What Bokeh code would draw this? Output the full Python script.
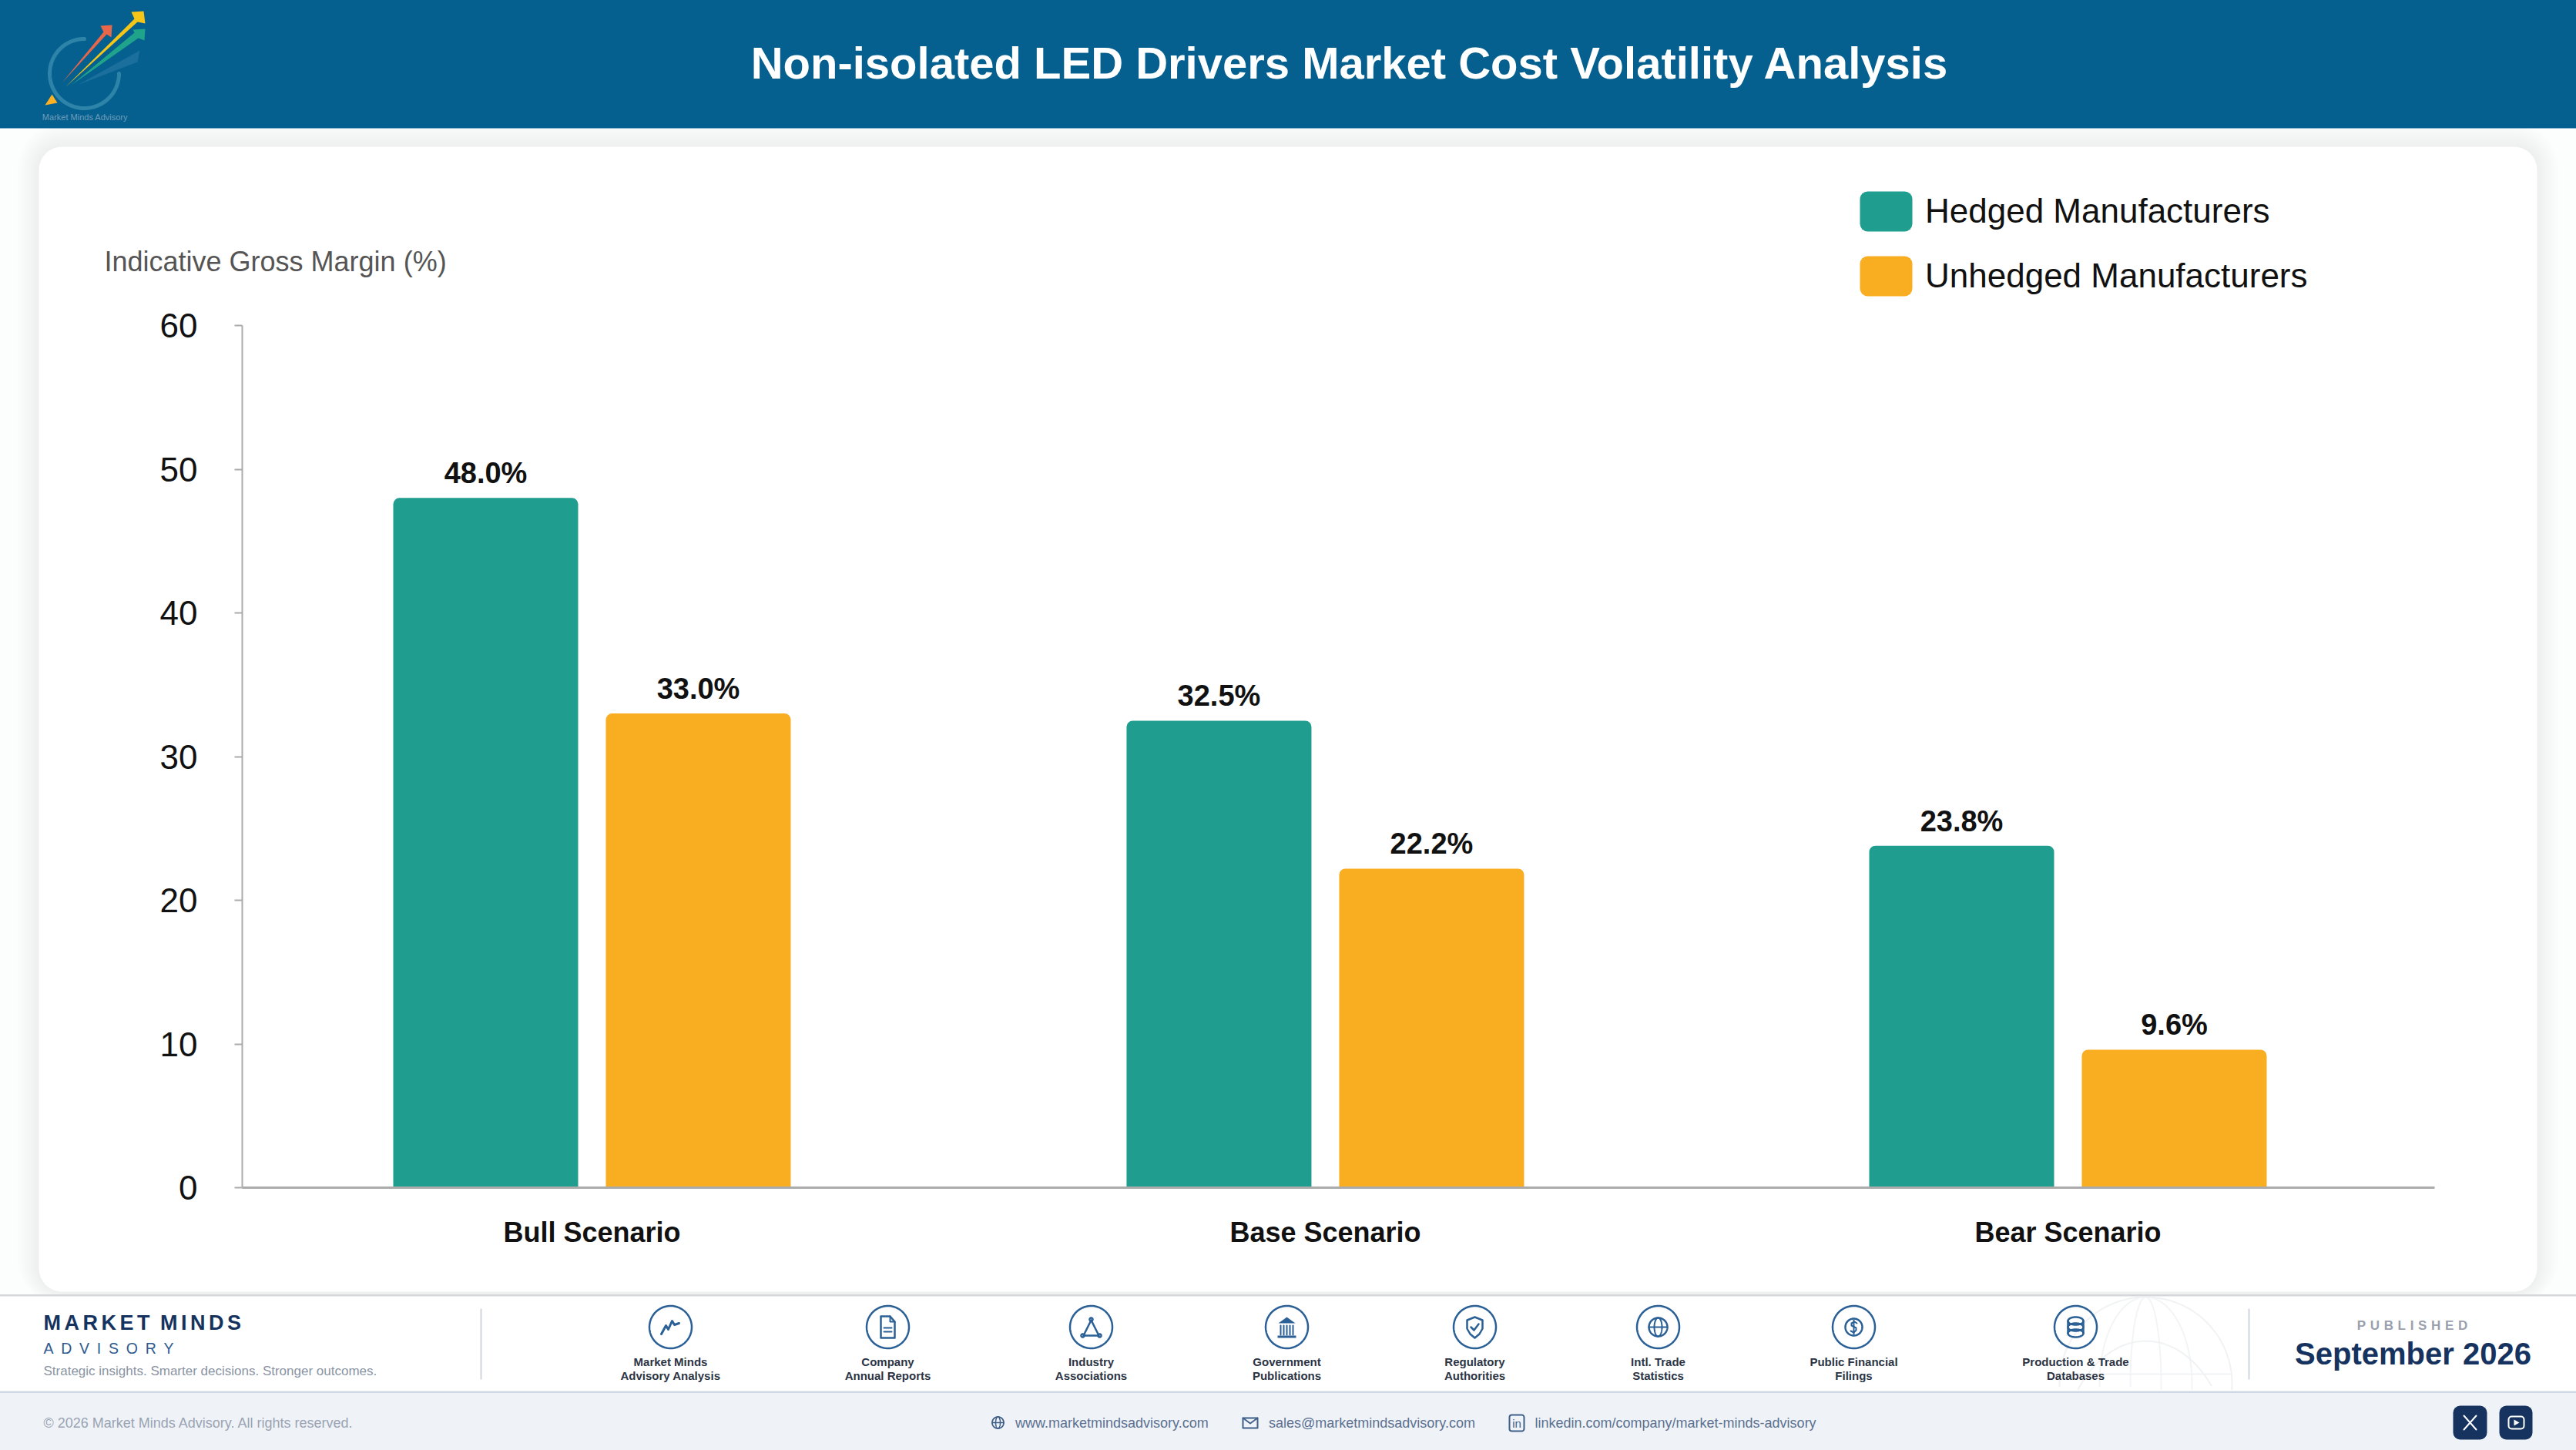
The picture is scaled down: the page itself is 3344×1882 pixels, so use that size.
import numpy as np
from bokeh.core.properties import value
from bokeh.embed import file_html
from bokeh.models import (ColumnDataSource, FixedTicker, Legend, LegendItem, LinearAxis, Range1d)
from bokeh.plotting import figure
from bokeh.resources import INLINE

# ---------- chart data ----------
scenarios = ["Bull Scenario", "Base Scenario", "Bear Scenario"]
scenario_pos = [0.0, 0.9937, 2.0]
hedged = [48.0, 32.5, 23.8]
unhedged = [33.0, 22.2, 9.6]
value_ticks = [0, 10, 20, 30, 40, 50, 60]
series_names = ["Hedged Manufacturers", "Unhedged Manufacturers"]

source_names = [["Market Minds", "Advisory Analysis"], ["Company", "Annual Reports"],
                ["Industry", "Associations"], ["Government", "Publications"],
                ["Regulatory", "Authorities"], ["Intl. Trade", "Statistics"],
                ["Public Financial", "Filings"], ["Production & Trade", "Databases"]]

# ---------- layout constants (page pixels) ----------
W, H = 3344, 1882
FONT = value("Liberation Sans")
TEAL, AMBER, HEADER, NAVY, ICON = "#1F9E8F", "#F9AD20", "#05608F", "#16335F", "#2A6095"
Y0, PX_PER_VAL = 1541.0, 18.65      # baseline and scale of the value axis
X0, PX_PER_GROUP = 768.0, 958.0     # first group centre, group spacing
BAR_W, BAR_OFF = 240 / PX_PER_GROUP, 138 / PX_PER_GROUP
AX_L, AX_R = (314 - X0) / PX_PER_GROUP, (3160 - X0) / PX_PER_GROUP

p = figure(width=W + 1, height=H + 1, x_range=Range1d(-1, W), y_range=Range1d(H, -1),
           x_axis_location=None, y_axis_location=None, min_border=0,
           outline_line_color=None, tools="", toolbar_location=None,
           output_backend="svg", background_fill_color="white", border_fill_color="white")
p.styles = {"position": "absolute", "left": "-1px", "top": "-1px"}
p.extra_x_ranges["group"] = Range1d((-1 - X0) / PX_PER_GROUP, (W - X0) / PX_PER_GROUP)
p.extra_y_ranges["value"] = Range1d((Y0 - H) / PX_PER_VAL, (Y0 + 1) / PX_PER_VAL)


def box(l, r, t, b, color, radius=0, alpha=1.0):
    p.quad(left=[l], right=[r], top=[t], bottom=[b], fill_color=color, fill_alpha=alpha,
           line_color=None, border_radius=radius)


def line(xs, ys, color=ICON, width=2.5, alpha=1.0):
    p.line(list(xs), list(ys), line_color=color, line_width=width, line_alpha=alpha,
           line_cap="round", line_join="round")


def poly(xs, ys, color=ICON):
    p.patch(list(xs), list(ys), fill_color=color, line_color=None)


def ring(cx, cy, rx, ry, color=ICON, width=2.5, a0=0.0, a1=2 * np.pi, alpha=1.0, clip=None):
    t = np.linspace(a0, a1, 90)
    xs, ys = cx + rx * np.cos(t), cy + ry * np.sin(t)
    if clip:
        ys = np.where((ys < clip[0]) | (ys > clip[1]), np.nan, ys)
    line(xs, ys, color, width, alpha)


def text(x, y, s, size, color, align="left", style="normal"):
    p.text([x], [y], text=[s], text_font=FONT, text_font_size=f"{size}px", text_color=color,
           text_align=align, text_baseline="middle", text_font_style=style)


# ---------- page background, header, card ----------
box(-5, W + 5, 166, 1681, "#FCFDFD")
for i in range(14):
    e = 2 + i * 2
    box(50 - e, 3293 + e, 190 - e * 1.1, 1676 + e * 0.6, "#000000", radius=30 + e, alpha=0.0035)
box(50, 3293, 190, 1676, "#FFFFFF", radius=30)
box(-5, W + 5, -5, 166, HEADER)
text(1752, 81, "Non-isolated LED Drivers Market Cost Volatility Analysis", 58, "#FFFFFF", "center", "bold")

# logo
ring(109, 95, 45, 45, "#2E84A8", 5, np.radians(0), np.radians(270))
poly([100, 172, 181, 178], [110, 70, 65, 80], "#1B6F9C")
poly([80, 134, 130, 145, 144, 138], [107, 41, 33, 32, 48, 44], "#E8674A")
poly([92, 174, 172, 188, 187, 179], [110, 42, 38, 37, 52, 49], "#1FA38A")
poly([84, 174, 170, 186, 188, 178], [113, 24, 15, 14, 30, 28], "#F5C518")
poly([58, 67, 74], [136, 122, 133], "#FBB122")
text(110, 151, "Market Minds Advisory", 11, "#6F9DBA", "center")

# ---------- footer ----------
box(-5, W + 5, 1681, 1806, "#FFFFFF")
ring(2785, 1795, 112, 112, "#F0F2F4", 2, clip=(1682, 1805))
ring(2785, 1795, 60, 112, "#F2F4F6", 2, clip=(1682, 1805))
ring(2785, 1795, 20, 112, "#F2F4F6", 2, clip=(1682, 1805))
ring(2785, 1905, 112, 165, "#F0F2F4", 2, clip=(1682, 1805))
line([2673, 2897], [1783, 1783], "#F0F2F4", 2)
box(-5, W + 5, 1806, H + 5, "#EFF3F8")
box(-5, W + 5, 1679.5, 1682, "#D5D7DB")
box(-5, W + 5, 1805, 1807.5, "#D0D8E5")
box(623, 625, 1698, 1790, "#D0D5DC")
box(2918, 2920, 1698, 1790, "#D0D5DC")

HS = "\u200a"
text(56, 1716, (HS * 2).join("MARKET") + "\u2002" + (HS * 2).join("MINDS"), 27, NAVY, "left", "bold")
text(56, 1749, "\u2002".join("ADVISORY"), 19.5, "#2F5A8F")
text(56, 1779, "Strategic insights. Smarter decisions. Stronger outcomes.", 17, "#8A94A3")
text(56, 1846, "\u00a9 2026 Market Minds Advisory. All rights reserved.", 18, "#9AA3B2")
text(3131, 1720, "\u2004".join("PUBLISHED"), 17, "#9AA0AD", "center", "bold")
text(3132, 1756, "September 2026", 40, NAVY, "center", "bold")

CY = 1722
centers = [870, 1152, 1416, 1670, 1914, 2152, 2406, 2694]
for cx, (l1, l2) in zip(centers, source_names):
    ring(cx, CY, 27.5, 27.5)
    text(cx, 1767, l1, 15, "#2B3445", "center", "bold")
    text(cx, 1785, l2, 15, "#2B3445", "center", "bold")


def off(cx, pts):
    return [cx + a for a, _ in pts], [CY + b for _, b in pts]


# chart icon
line(*off(870, [(-12, 9), (-6, -2), (-3, 3), (2, -8), (5, -3), (11, -5)]), width=3)
# document
c = 1152
line(*off(c, [(-9, -14), (3, -14), (9, -7), (9, 14), (-9, 14), (-9, -14)]))
line(*off(c, [(3, -14), (3, -7), (9, -7)]), width=2)
line(*off(c, [(-5, 1), (5, 1)]), width=2)
line(*off(c, [(-5, 6), (5, 6)]), width=2)
# network triangle
c = 1416
line(*off(c, [(0, -9), (-10, 11), (10, 11), (0, -9)]))
for a, b in [(0, -10), (-11, 11), (11, 11)]:
    ring(c + a, CY + b, 2, 2, width=2.5)
# bank
c = 1670
poly([c - 11, c, c + 11], [CY - 5, CY - 13, CY - 5])
for a in (-8, -4, 0, 4, 8):
    line([c + a, c + a], [CY - 2, CY + 10], width=2)
box(c - 12, c + 12, CY + 11, CY + 14, ICON)
# shield
c = 1914
line(*off(c, [(0, -13), (10, -9), (10, 2), (6, 9), (0, 14), (-6, 9), (-10, 2), (-10, -9), (0, -13)]))
line(*off(c, [(-5, 0), (-1, 4), (5, -4)]))
# globe
c = 2152
ring(c, CY, 12, 12)
ring(c, CY, 5, 12, width=2)
line([c - 12, c + 12], [CY, CY], width=2)
# coin
c = 2406
ring(c, CY, 11, 11, width=2.5)
line(*off(c, [(4, -5), (1, -7), (-3, -5), (-3, -2), (3, 1), (3, 4), (0, 7), (-4, 5)]), width=2)
line(*off(c, [(0, -9), (0, 9)]), width=2)
# database
c = 2694
for dy in (-8, 0, 8):
    ring(c, CY + dy, 10, 5, width=2.5)
line([c - 10, c - 10], [CY - 8, CY + 8])
line([c + 10, c + 10], [CY - 8, CY + 8])

# contact row
LINK = "#5B7090"
ring(1295, 1846, 7.5, 7.5, "#3E5F88", 1.8)
ring(1295, 1846, 3, 7.5, "#3E5F88", 1.5)
line([1287.5, 1302.5], [1846, 1846], "#3E5F88", 1.5)
text(1317.5, 1846, "www.marketmindsadvisory.com", 18, LINK)
line([1613, 1632, 1632, 1613, 1613], [1840, 1840, 1853, 1853, 1840], "#3E5F88", 2)
line([1613, 1622.5, 1632], [1840, 1847, 1840], "#3E5F88", 1.8)
text(1646.5, 1846, "sales@marketmindsadvisory.com", 18, LINK)
p.quad(left=[1959], right=[1978], top=[1836], bottom=[1857], fill_color=None,
       line_color="#3E5F88", line_width=2, border_radius=3)
text(1968.5, 1847, "in", 15, "#3E5F88", "center")
text(1992, 1846, "linkedin.com/company/market-minds-advisory", 18, LINK)

box(3184, 3228, 1824, 1868, NAVY, radius=9)
box(3244, 3287, 1824, 1868, NAVY, radius=9)
line([3198, 3214], [1837, 1855], "#FFFFFF", 2)
line([3214, 3198], [1837, 1855], "#FFFFFF", 2)
p.quad(left=[3256], right=[3276], top=[1838], bottom=[1854], fill_color=None,
       line_color="#FFFFFF", line_width=2, border_radius=4)
poly([3263, 3270, 3263], [1842, 1846, 1850], "#FFFFFF")

# ---------- chart ----------
names = {"x_range_name": "group", "y_range_name": "value"}
left_pos = [c - BAR_OFF for c in scenario_pos]
right_pos = [c + BAR_OFF for c in scenario_pos]
r_h = p.vbar(x=left_pos, top=hedged, bottom=0, width=BAR_W, fill_color=TEAL, line_color=None,
             border_radius=(8, 8, 0, 0), **names)
r_u = p.vbar(x=right_pos, top=unhedged, bottom=0, width=BAR_W, fill_color=AMBER, line_color=None,
             border_radius=(8, 8, 0, 0), **names)

labels = ColumnDataSource(dict(x=left_pos + right_pos, y=hedged + unhedged,
                               t=[f"{v:.1f}%" for v in hedged + unhedged]))
p.text("x", "y", text="t", source=labels, text_font=FONT, text_font_size="38px",
       text_font_style="bold", text_color="#111111", text_align="center",
       text_baseline="middle", y_offset=-32, **names)

yax = LinearAxis(fixed_location=AX_L, bounds=(0, 60), **names)
yax.ticker = FixedTicker(ticks=value_ticks)
yax.axis_line_color = "#ABABAB"
yax.axis_line_width = 2
yax.major_tick_line_color = "#ABABAB"
yax.major_tick_line_width = 2
yax.major_tick_out = 10
yax.major_tick_in = 0
yax.minor_tick_line_color = None
yax.major_label_standoff = 48
yax.major_label_text_font = "Liberation Sans"
yax.major_label_text_font_size = "44px"
yax.major_label_text_color = "#111111"
p.add_layout(yax, "left")

xax = LinearAxis(fixed_location=0, bounds=(AX_L, AX_R), **names)
xax.ticker = FixedTicker(ticks=scenario_pos)
xax.major_label_overrides = dict(zip(scenario_pos, scenarios))
xax.axis_line_color = "#ABABAB"
xax.axis_line_width = 3
xax.major_tick_line_color = None
xax.minor_tick_line_color = None
xax.major_tick_out = 0
xax.major_tick_in = 0
xax.major_label_standoff = 37
xax.major_label_text_font = "Liberation Sans"
xax.major_label_text_font_size = "36px"
xax.major_label_text_font_style = "bold"
xax.major_label_text_color = "#111111"
p.add_layout(xax, "below")

text(135, 339, "Indicative Gross Margin (%)", 36, "#555555")

# legend: rounded swatches sit behind the legend's own (slightly smaller) square swatches
box(2414, 2482, 248, 300, TEAL, radius=10)
box(2414, 2482, 332, 384, AMBER, radius=10)
legend = Legend(items=[LegendItem(label=series_names[0], renderers=[r_h]),
                       LegendItem(label=series_names[1], renderers=[r_u])],
                location=(2410, H - 387), orientation="vertical", glyph_width=78, glyph_height=58,
                label_standoff=12, spacing=26, padding=0, margin=0, border_line_color=None,
                background_fill_alpha=0, label_text_font="Liberation Sans", label_text_font_size="44px",
                label_text_color="#111111", label_height=58)
p.add_layout(legend, "center")

open("out.html", "w").write(file_html(p, INLINE))
